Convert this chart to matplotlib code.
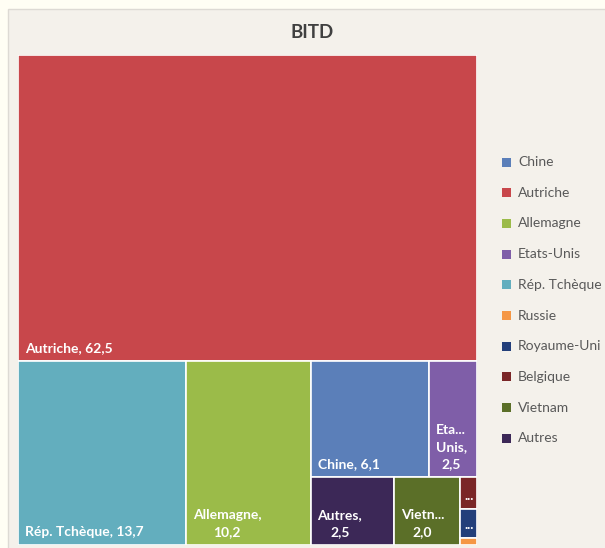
import matplotlib
matplotlib.use("Agg")
import matplotlib.pyplot as plt
from matplotlib.patches import Rectangle

# ---- data ----
categories = ["Chine", "Autriche", "Allemagne", "Etats-Unis", "Rép. Tchèque",
              "Russie", "Royaume-Uni", "Belgique", "Vietnam", "Autres"]
values = [6.1, 62.5, 10.2, 2.5, 13.7, 0.05, 0.22, 0.23, 2.0, 2.5]
colors = ["#5B7FB9", "#C8474B", "#9BBB49", "#7F5EA8", "#63AEBE",
          "#F59745", "#233F7A", "#7A2627", "#5B6F28", "#3C2857"]
# text shown inside each tile (Excel truncates / wraps long labels)
tile_labels = {
    "Autriche": "Autriche, 62,5",
    "Rép. Tchèque": "Rép. Tchèque, 13,7",
    "Allemagne": "Allemagne,\n10,2",
    "Chine": "Chine, 6,1",
    "Etats-Unis": "Eta...\nUnis,\n2,5",
    "Autres": "Autres,\n2,5",
    "Vietnam": "Vietn...\n2,0",
    "Belgique": "...",
    "Royaume-Uni": "...",
    "Russie": "",
}
title = "BITD"

# ---- squarified layout (mean aspect criterion) ----
def treemap(vals, x, y, w, h):
    total = sum(vals)
    areas = [v * w * h / total for v in vals]
    rects = []
    i, n = 0, len(areas)

    def mean_aspect(row, short):
        s = sum(row)
        t = s / short
        asp = [max(t / (a / t), (a / t) / t) for a in row]
        return sum(asp) / len(asp)

    while i < n:
        short = min(w, h)
        row = [areas[i]]
        j = i + 1
        while j < n and mean_aspect(row + [areas[j]], short) <= mean_aspect(row, short):
            row.append(areas[j])
            j += 1
        s = sum(row)
        if w <= h:
            t = s / w
            cx = x
            for a in row:
                rw = a / t
                rects.append((cx, y, rw, t))
                cx += rw
            y += t
            h -= t
        else:
            t = s / h
            cy = y
            for a in row:
                rh = a / t
                rects.append((x, cy, t, rh))
                cy += rh
            x += t
            w -= t
        i = j
    return rects

order = sorted(range(len(values)), key=lambda k: -values[k])
W, H = 459.0, 490.0
rects = treemap([values[k] for k in order], 0, 0, W, H)

# ---- figure ----
FW, FH = 605, 548
fig = plt.figure(figsize=(FW / 100, FH / 100), dpi=100)
fig.patch.set_facecolor("#FFFEF4")
# chart panel
fig.add_artist(Rectangle((8 / FW, -0.01), 1, 1 - 9 / FH + 0.01, transform=fig.transFigure,
                         facecolor="#F4F1EB", edgecolor="#DDDAD4", linewidth=1,
                         zorder=-10))

ax = fig.add_axes([18 / FW, 3 / FH, W / FW, H / FH])
ax.set_zorder(1)
ax.patch.set_visible(False)
ax.set_xlim(0, W)
ax.set_ylim(H, 0)
ax.axis("off")

for k, (x, y, w, h) in zip(order, rects):
    ax.add_patch(Rectangle((x, y), w, h, facecolor=colors[k],
                           edgecolor="white", linewidth=1.2))
    lab = tile_labels[categories[k]]
    if lab:
        if lab == "...":
            ax.text(x + w / 2, y + h - 7, lab, color="white", fontsize=9.5,
                    fontweight="bold", family="Lato", ha="center", va="bottom")
        else:
            ax.text(x + 7, y + h - 7, lab, color="white", fontsize=10,
                    fontweight="bold", family="Lato", ha="left", va="bottom",
                    multialignment="center", linespacing=1.5)

fig.text(312 / FW, 1 - 33 / FH, title, ha="center", va="center",
         fontsize=13.5, fontweight="bold", family="Lato", color="#404040")

# legend
y0, step = 162, 30.7
for i, (c, col) in enumerate(zip(categories, colors)):
    yc = y0 + i * step
    fig.add_artist(Rectangle((502 / FW, 1 - (yc + 4.5) / FH), 9 / FW, 9 / FH,
                             transform=fig.transFigure, facecolor=col,
                             edgecolor="none"))
    fig.text(518 / FW, 1 - yc / FH, c, ha="left", va="center",
             fontsize=10, family="Lato", color="#595959")

fig.savefig("out.png", dpi=100, facecolor=fig.get_facecolor())
